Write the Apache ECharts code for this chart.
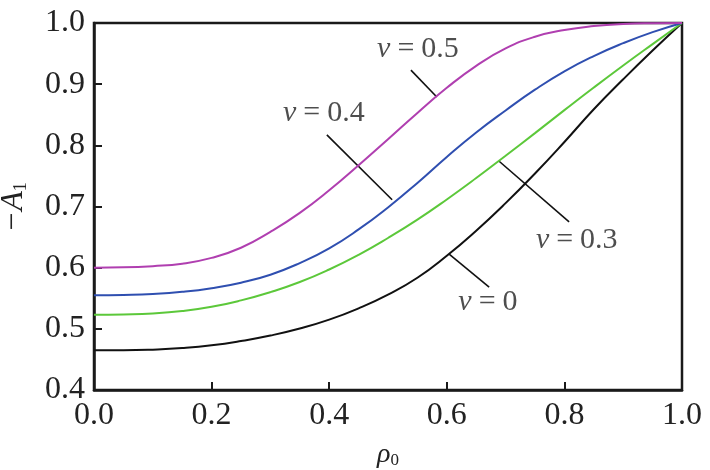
<!DOCTYPE html>
<html>
<head>
<meta charset="utf-8">
<script src="https://cdn.jsdelivr.net/npm/echarts@6/dist/echarts.min.js"></script>
<style>
html,body{margin:0;padding:0;background:#fff;}
#main{width:710px;height:470px;}
</style>
</head>
<body>
<div id="main"></div>
<script>
// ---- data ----
var rho = [0, 0.05, 0.1, 0.15, 0.2, 0.25, 0.3, 0.35, 0.4, 0.45, 0.5, 0.55, 0.6, 0.65, 0.7, 0.75, 0.8, 0.85, 0.9, 0.95, 1.0];
var nu0  = [0.465, 0.465, 0.466, 0.4685, 0.473, 0.480, 0.489, 0.5005, 0.515, 0.5335, 0.556, 0.5835, 0.6195, 0.6605, 0.7055, 0.754, 0.8055, 0.859, 0.908, 0.955, 1.0];
var nu03 = [0.523, 0.5235, 0.525, 0.529, 0.536, 0.5465, 0.560, 0.5765, 0.597, 0.621, 0.6485, 0.6785, 0.7115, 0.7465, 0.783, 0.820, 0.8575, 0.8945, 0.9305, 0.9655, 1.0];
var nu04 = [0.555, 0.5555, 0.557, 0.5605, 0.5665, 0.5755, 0.5885, 0.6075, 0.6315, 0.6625, 0.6985, 0.7385, 0.781, 0.821, 0.857, 0.891, 0.921, 0.946, 0.967, 0.985, 1.0];
var nu05 = [0.600, 0.6005, 0.6025, 0.6065, 0.616, 0.6325, 0.6585, 0.6895, 0.7265, 0.7675, 0.810, 0.853, 0.894, 0.930, 0.9585, 0.9775, 0.9885, 0.995, 0.9985, 0.9997, 1.0];
var seriesNames = ['ν=0', 'ν=0.3', 'ν=0.4', 'ν=0.5'];
var labelValues = ['0', '0.3', '0.4', '0.5'];
// annotation leader lines [start, end] in data units
var leader0  = [[0.672, 0.568], [0.604, 0.622]];
var leader03 = [[0.808, 0.675], [0.689, 0.774]];
var leader04 = [[0.396, 0.817], [0.507, 0.711]];
var leader05 = [[0.539, 0.923], [0.583, 0.879]];
// annotation label anchor positions in data units
var labelPos = [[0.670, 0.544], [0.821, 0.645], [0.391, 0.853], [0.551, 0.957]];
var xTicks = [0, 0.2, 0.4, 0.6, 0.8, 1.0];
var yTicks = [0.4, 0.5, 0.6, 0.7, 0.8, 0.9, 1.0];

// ---- chart ----
var FONT = "'Liberation Serif', 'DejaVu Serif', serif";
var colors = ['#111111', '#5cc83a', '#2f4fb0', '#b03fb0'];
var curves = [nu0, nu03, nu04, nu05];
var leaders = [leader0, leader03, leader04, leader05];

function pairs(xs, ys) { return xs.map(function (x, i) { return [x, ys[i]]; }); }

var series = [];
leaders.forEach(function (l) {
  series.push({
    type: 'line', data: l, symbol: 'none', silent: true,
    lineStyle: { color: '#111', width: 1.6 }, z: 1
  });
});
curves.forEach(function (c, i) {
  series.push({
    name: seriesNames[i], type: 'line', data: pairs(rho, c),
    symbol: 'none', smooth: 0.5,
    lineStyle: { color: colors[i], width: 2 }, z: 3
  });
});
series.push({
  type: 'scatter', symbolSize: 0, silent: true, z: 5,
  data: labelPos.map(function (p, i) { return { value: p, lv: labelValues[i] }; }),
  label: {
    show: true, position: 'inside',
    formatter: function (p) { return '{i|ν}{e|=}{n|' + p.data.lv + '}'; },
    rich: {
      i: { fontFamily: FONT, fontStyle: 'italic', fontSize: 30, color: '#222' },
      e: { fontFamily: FONT, fontSize: 30, color: '#222', padding: [0, 7, 0, 7] },
      n: { fontFamily: FONT, fontSize: 30, color: '#222' }
    }
  }
});

var chart = echarts.init(document.getElementById('main'), null, { renderer: 'canvas' });
chart.setOption({
  animation: false,
  backgroundColor: '#fff',
  grid: { left: 94, right: 28, top: 23, bottom: 80, show: true, borderColor: '#1a1a1a', borderWidth: 2.5,
    containLabel: false, outerBoundsMode: 'none' },
  xAxis: {
    type: 'value', min: xTicks[0], max: xTicks[xTicks.length - 1], interval: 0.2,
    name: '{i|ρ}{s|0}', nameLocation: 'middle', nameGap: 50,
    nameTextStyle: {
      rich: {
        i: { fontFamily: FONT, fontStyle: 'italic', fontSize: 28, color: '#222' },
        s: { fontFamily: FONT, fontSize: 17, color: '#222', verticalAlign: 'bottom', padding: [12, 0, 0, 0] }
      }
    },
    axisLine: { lineStyle: { color: '#1a1a1a', width: 2.5 } },
    axisTick: { inside: true, length: 8, lineStyle: { color: '#1a1a1a', width: 2 } },
    axisLabel: { fontFamily: FONT, fontSize: 32, color: '#222', margin: 10,
      formatter: function (v) { return v.toFixed(1); } },
    splitLine: { show: false }
  },
  yAxis: {
    type: 'value', min: yTicks[0], max: yTicks[yTicks.length - 1], interval: 0.1,
    name: '{n|−}{i|A}{s|1}', nameLocation: 'middle', nameGap: 64, nameRotate: 90,
    nameTextStyle: {
      rich: {
        n: { fontFamily: FONT, fontSize: 32, color: '#222', padding: [0, 2, 0, 0] },
        i: { fontFamily: FONT, fontStyle: 'italic', fontSize: 32, color: '#222' },
        s: { fontFamily: FONT, fontSize: 18, color: '#222', verticalAlign: 'bottom', padding: [12, 0, 0, 0] }
      }
    },
    axisLine: { lineStyle: { color: '#1a1a1a', width: 2.5 } },
    axisTick: { inside: true, length: 8, lineStyle: { color: '#1a1a1a', width: 2 } },
    axisLabel: { fontFamily: FONT, fontSize: 32, color: '#222', margin: 9,
      formatter: function (v) { return v.toFixed(1); } },
    splitLine: { show: false }
  },
  series: series
});
</script>
</body>
</html>
